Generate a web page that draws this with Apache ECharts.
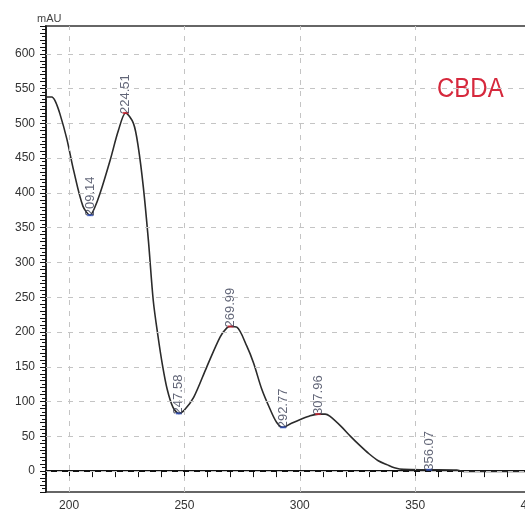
<!DOCTYPE html>
<html>
<head>
<meta charset="utf-8">
<script src="https://cdn.jsdelivr.net/npm/echarts@6/dist/echarts.min.js"></script>
<style>
  html, body { margin: 0; padding: 0; background: #fff; }
  #chart { width: 525px; height: 515px; }
</style>
</head>
<body>
<div id="chart"></div>
<script>
// UV spectrum of CBDA
var wavelength = [190.3, 192.5, 194, 196, 199, 202, 206, 209.14, 211, 213.4, 217.8, 221.4, 224.51, 227.9, 230, 232.2, 234.4, 236.5, 238.5, 240.5, 242.5, 245, 247.58, 250, 254, 259.7, 265.5, 268.4, 269.99, 272.7, 277, 280, 283.5, 287, 290, 292.77, 296, 300, 304, 307.96, 311, 313, 318, 322, 326, 330, 334, 338, 341, 345, 356.07, 368, 371, 400]
var absorbance = [538, 538, 532, 514, 478, 432, 381, 368, 378, 399, 447, 490, 515, 500, 466, 408, 331, 245, 195, 152, 118, 92, 83, 88, 106, 150, 193, 206, 208, 207, 180, 155, 118, 90, 70, 63, 68, 74, 79, 82, 82, 79, 64, 50, 37, 25, 15, 9, 5, 2.5, 2, 1.5, -0.5, -0.5]

// labelled maxima and minima
var peakNm = [224.51, 269.99, 307.96]
var peakMau = [515, 208, 82]
var valleyNm = [209.14, 247.58, 292.77, 356.07]
var valleyMau = [368, 83, 63, 2]

// gridline positions
var xTicks = [200, 250, 300, 350]
var yTicks = [0, 50, 100, 150, 200, 250, 300, 350, 400, 450, 500, 550, 600]

var chart = echarts.init(document.getElementById('chart'))

function pairs(xs, ys) {
  return xs.map(function (x, i) { return [x, ys[i]] })
}

var tagLabel = {
  show: true,
  position: 'top',
  distance: 1,
  offset: [-3, 0],
  rotate: 90,
  align: 'left',
  verticalAlign: 'middle',
  fontSize: 13,
  fontFamily: 'Liberation Sans, Arial, sans-serif',
  color: '#3a3f55',
  formatter: function (p) { return p.value[0].toFixed(2) }
}

var option = {
  animation: false,
  backgroundColor: '#fff',
  grid: {
    left: 46,
    right: -5.5,
    top: 26,
    bottom: 23,
    containLabel: false,
    outerBoundsMode: 'none',
    show: true,
    borderColor: '#666',
    borderWidth: 2,
    backgroundColor: 'transparent'
  },
  graphic: [
    {
      type: 'text',
      left: 437,
      top: 76,
      scaleY: 1.15,
      style: {
        text: 'CBDA',
        fontSize: 24,
        fontFamily: 'Liberation Sans, Arial, sans-serif',
        fill: '#d6283c'
      }
    }
  ],
  xAxis: {
    type: 'value',
    min: 190,
    max: 400,
    interval: 10,
    axisLine: { lineStyle: { color: '#111', width: 2 } },
    axisTick: { length: 6, lineStyle: { color: '#111' } },
    axisLabel: {
      margin: 8,
      fontSize: 12,
      color: '#333',
      fontFamily: 'Liberation Sans, Arial, sans-serif',
      formatter: function (v) { return v % 50 === 0 ? v : '' }
    },
    splitLine: { show: false }
  },
  yAxis: {
    type: 'value',
    min: -30,
    max: 640,
    interval: 10,
    name: 'mAU',
    nameLocation: 'end',
    nameGap: 2,
    nameTextStyle: {
      fontSize: 11,
      color: '#444',
      align: 'left',
      padding: [0, 0, 0, -9],
      fontFamily: 'Liberation Sans, Arial, sans-serif'
    },
    axisLine: { lineStyle: { color: '#111', width: 1.5 } },
    axisTick: { length: 6, lineStyle: { color: '#111' } },
    minorTick: { show: true, splitNumber: 2, length: 4, lineStyle: { color: '#111' } },
    axisLabel: {
      margin: 11,
      fontSize: 12,
      color: '#333',
      fontFamily: 'Liberation Sans, Arial, sans-serif',
      formatter: function (v) { return v % 50 === 0 ? v : '' }
    },
    splitLine: { show: false }
  },
  series: [
    {
      type: 'line',
      data: pairs(wavelength, absorbance),
      showSymbol: false,
      smooth: 0.3,
      lineStyle: { color: '#2b2b2b', width: 1.6 },
      z: 3,
      markLine: {
        silent: true,
        symbol: 'none',
        label: { show: false },
        lineStyle: { type: [5, 6], color: '#c4c4c4', width: 1 },
        data: yTicks.map(function (v) { return { yAxis: v } })
          .concat(xTicks.map(function (v) { return { xAxis: v } }))
      }
    },
    {
      type: 'scatter',
      data: pairs(peakNm, peakMau),
      symbol: 'rect',
      symbolSize: [6, 2],
      itemStyle: { color: '#d0202e' },
      label: tagLabel,
      z: 4
    },
    {
      type: 'scatter',
      data: pairs(valleyNm, valleyMau),
      symbol: 'rect',
      symbolSize: [6, 2],
      itemStyle: { color: '#3050c0' },
      label: tagLabel,
      z: 4
    }
  ]
}

chart.setOption(option)
</script>
</body>
</html>
